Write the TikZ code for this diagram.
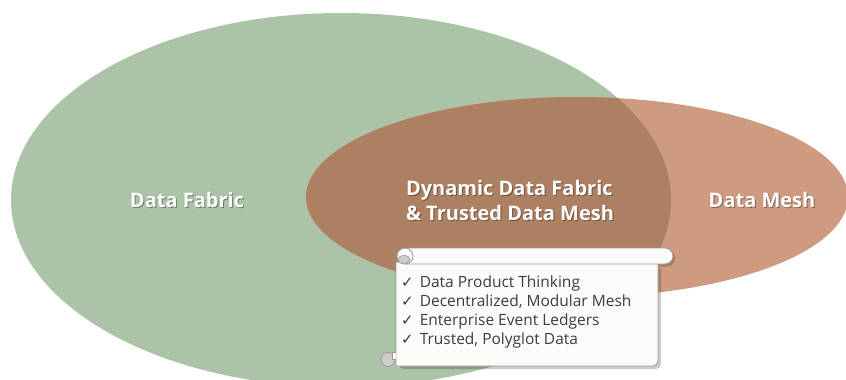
\documentclass[tikz,border=0pt]{standalone}
\usepackage{fontspec}
\setmainfont{Open Sans}
\newfontfamily\symfont{DejaVu Sans}
\definecolor{fabricgreen}{HTML}{ABC4A7}
\definecolor{meshbrown}{HTML}{CF9B80}
\definecolor{overlapbrown}{HTML}{AC8060}
\definecolor{scrollfill}{HTML}{FBFBF9}
\definecolor{scrolledge}{HTML}{9A9A9A}
\definecolor{curlgray}{HTML}{CDCDCD}
\definecolor{listtext}{HTML}{3C3C3C}
\tikzset{
  titletext/.style={font=\fontsize{20}{25}\selectfont\bfseries, text=white, align=left, inner sep=0pt},
  shadowtext/.style={font=\fontsize{20}{25}\selectfont\bfseries, text=black, text opacity=0.35, align=left, inner sep=0pt},
  listitem/.style={font=\fontsize{15.5}{19}\selectfont, text=listtext, anchor=west, inner sep=0pt},
  scrollline/.style={draw=scrolledge, line width=0.8pt},
}
\newcommand{\chk}{{\symfont\fontsize{15}{16}\selectfont ✓}}
\begin{document}
\begin{tikzpicture}[x=1pt,y=-1pt]
\useasboundingbox (0,0) rectangle (846,380);
\begin{scope}
  \clip (0,0) rectangle (846,380);
  \fill[fabricgreen] (341,200) ellipse [x radius=330pt, y radius=187pt];
  \fill[meshbrown] (577,197) ellipse [x radius=271pt, y radius=100pt];
  \begin{scope}
    \clip (341,200) ellipse [x radius=330pt, y radius=187pt];
    \fill[overlapbrown] (577,197) ellipse [x radius=271pt, y radius=100pt];
  \end{scope}
\end{scope}
% titles
\node[shadowtext] at (188,201.2) {Data Fabric};
\node[titletext] (fabric) at (187,200) {Data Fabric};
\node[shadowtext] at (763,201.2) {Data Mesh};
\node[titletext] (mesh) at (762,200) {Data Mesh};
\node[shadowtext] at (511,201.2) {Dynamic Data Fabric\\\& Trusted Data Mesh};
\node[titletext] (both) at (510,200) {Dynamic Data Fabric\\\& Trusted Data Mesh};
% scroll shadow
\fill[black, opacity=0.2, rounded corners=5pt] (399,266) rectangle (661,369);
\fill[black, opacity=0.2, rounded corners=8pt] (399,250) rectangle (675,266.5);
% scroll body
\filldraw[scrollline, fill=scrollfill] (396,262) -- (658,262) [rounded corners=5pt] -- (658,366) [sharp corners] -- (396,366) -- cycle;
% top roll
\filldraw[scrollline, fill=scrollfill, rounded corners=8pt] (397,248) rectangle (673,264);
\filldraw[scrollline, fill=scrollfill] (405,256) circle [radius=8pt];
\filldraw[draw=scrolledge, line width=0.6pt, fill=curlgray] (404,259.5) ellipse [x radius=6pt, y radius=4pt];
% bottom curl
\filldraw[scrollline, fill=curlgray] (388,359.5) circle [radius=7pt];
\filldraw[draw=scrolledge, line width=0.6pt, fill=scrollfill] (395.6,352.6) -- (391.8,352.6) -- (391.8,359.5) -- (395.6,359.5);
% list
\node[listitem] (i1) at (401,283) {\chk\hspace{6pt}Data Product Thinking};
\node[listitem] (i2) at (401,302) {\chk\hspace{6pt}Decentralized, Modular Mesh};
\node[listitem] (i3) at (401,321) {\chk\hspace{6pt}Enterprise Event Ledgers};
\node[listitem] (i4) at (401,340) {\chk\hspace{6pt}Trusted, Polyglot Data};
\end{tikzpicture}
\end{document}
